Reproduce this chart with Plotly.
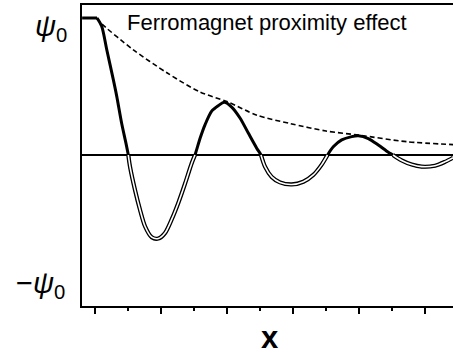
import plotly.graph_objects as go

# ---- data (x in tick units, y in units of psi0) ----
plateau_x = [-0.39, 0.061]
plateau_y = [1.0, 1.0]

curve_x = [0.061, 0.203, 0.355, 0.555, 0.658, 0.809, 0.939, 1.009,
           1.061, 1.212, 1.364, 1.515, 1.718, 1.918, 2.121, 2.324, 2.524, 2.727, 2.930, 3.030,
           3.182, 3.333, 3.536, 3.736, 3.918, 4.142, 4.394, 4.645, 4.900, 5.030,
           5.152, 5.355, 5.606, 5.961, 6.312, 6.615, 6.870, 7.045,
           7.221, 7.476, 7.779, 7.979, 8.282, 8.585, 8.888, 9.030,
           9.294, 9.597, 9.900, 10.303, 10.606, 10.848]
curve_y = [1.00, 0.94, 0.77, 0.55, 0.43, 0.23, 0.085, 0.0,
           -0.085, -0.255, -0.40, -0.52, -0.60, -0.61, -0.57, -0.47, -0.35, -0.21, -0.06, 0.0,
           0.12, 0.22, 0.32, 0.36, 0.385, 0.35, 0.27, 0.16, 0.05, 0.0,
           -0.085, -0.16, -0.20, -0.215, -0.195, -0.145, -0.07, 0.0,
           0.06, 0.11, 0.134, 0.14, 0.12, 0.073, 0.02, 0.0,
           -0.04, -0.07, -0.085, -0.078, -0.05, -0.02]

envelope_x = [0.061, 0.15, 1.15, 2.18, 3.18, 4.0, 4.91, 5.91, 7.0, 8.0, 9.45, 10.85]
envelope_y = [1.00, 0.97, 0.77, 0.60, 0.46, 0.39, 0.29, 0.23, 0.175, 0.145, 0.097, 0.076]

title_text = "Ferromagnet proximity effect"
x_label = "x"
top_label = "<i>ψ</i><sub>0</sub>"
bottom_label = "−<i>ψ</i><sub>0</sub>"

# ---- split curve into negative lobes (drawn as double lines) ----
neg_segments = []
cur_x, cur_y = None, None
for i in range(1, len(curve_x)):
    mid = (curve_y[i - 1] + curve_y[i]) / 2
    if mid < 0:
        if cur_x is None:
            cur_x, cur_y = [curve_x[i - 1]], [curve_y[i - 1]]
        cur_x.append(curve_x[i])
        cur_y.append(curve_y[i])
    else:
        if cur_x is not None:
            neg_segments.append((cur_x, cur_y))
            cur_x, cur_y = None, None
if cur_x is not None:
    neg_segments.append((cur_x, cur_y))

fig = go.Figure()

# envelope
fig.add_trace(go.Scatter(x=envelope_x, y=envelope_y, mode="lines",
                         line=dict(color="black", width=1.6, dash="5px,3px",
                                   shape="spline", smoothing=0.8),
                         hoverinfo="skip"))

# plateau
fig.add_trace(go.Scatter(x=plateau_x, y=plateau_y, mode="lines",
                         line=dict(color="black", width=3), hoverinfo="skip"))

# full curve (thick black: positive parts)
fig.add_trace(go.Scatter(x=curve_x, y=curve_y, mode="lines",
                         line=dict(color="black", width=3,
                                   shape="spline", smoothing=0.8),
                         hoverinfo="skip"))

# negative parts: double line
for sx, sy in neg_segments:
    fig.add_trace(go.Scatter(x=sx, y=sy, mode="lines",
                             line=dict(color="black", width=4.2,
                                       shape="spline", smoothing=0.8),
                             hoverinfo="skip"))
for sx, sy in neg_segments:
    fig.add_trace(go.Scatter(x=sx, y=sy, mode="lines",
                             line=dict(color="white", width=1.6,
                                       shape="spline", smoothing=0.8),
                             hoverinfo="skip"))

fig.update_layout(
    width=453, height=356,
    margin=dict(l=82, r=0, t=5, b=50),
    paper_bgcolor="white", plot_bgcolor="white",
    showlegend=False,
    font=dict(family="Liberation Sans, Arial, sans-serif", color="black"),
)
fig.update_xaxes(range=[-13 / 33, 358 / 33], showgrid=False, zeroline=False,
                 showline=True, linecolor="black", linewidth=2, mirror=True,
                 ticks="outside", tick0=0, dtick=2, ticklen=6, tickwidth=1.5,
                 tickcolor="black", showticklabels=False,
                 minor=dict(dtick=1, tick0=0, ticks="outside", ticklen=3,
                            tickwidth=1.5, tickcolor="black", showgrid=False))
fig.update_yaxes(range=[-(306 - 155) / 137, (155 - 5) / 137], showgrid=False, zeroline=True,
                 zerolinecolor="black", zerolinewidth=2,
                 showline=True, linecolor="black", linewidth=2, mirror=False,
                 ticks="", showticklabels=False)

fig.add_annotation(text=title_text, xref="paper", yref="paper",
                   x=(125 - 82) / 371, y=(306 - 23) / 301, xanchor="left", yanchor="middle",
                   showarrow=False, font=dict(size=22, color="black"))
fig.add_annotation(text="<b>" + x_label + "</b>", xref="paper", yref="paper",
                   x=(270 - 82) / 371, y=-(356 - 306) / 301, xanchor="center", yanchor="bottom",
                   showarrow=False, borderpad=0, font=dict(size=31, color="black"))
fig.add_annotation(text=top_label, xref="paper", yref="paper",
                   x=(69 - 82) / 371, y=(306 - 28) / 301, xanchor="right", yanchor="middle",
                   showarrow=False, font=dict(size=29, color="black"))
fig.add_annotation(text=bottom_label, xref="paper", yref="paper",
                   x=(67 - 82) / 371, y=(306 - 285) / 301, xanchor="right", yanchor="middle",
                   showarrow=False, font=dict(size=29, color="black"))

fig.write_html("out.html")
